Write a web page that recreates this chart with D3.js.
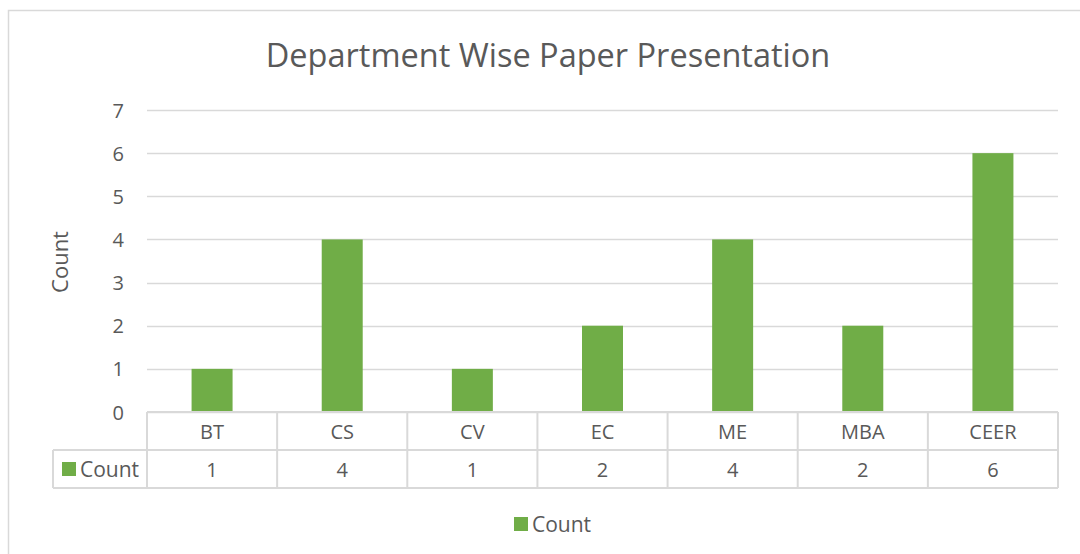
<!DOCTYPE html>
<html><head><meta charset="utf-8">
<script src="https://cdn.jsdelivr.net/npm/d3@7"></script>
<style>body{margin:0;background:#fff;} text{font-family:"Open Sans",sans-serif;fill:#595959;}</style>
</head><body>
<svg id="c" width="1080" height="554"></svg>
<script>
const categories = ["BT","CS","CV","EC","ME","MBA","CEER"];
const counts = [1,4,1,2,4,2,6];
const yTicks = [0,1,2,3,4,5,6,7];
const seriesName = "Count";
const title = "Department Wise Paper Presentation";
const green = "#70AD47", grid = "#D9D9D9";

const svg = d3.select("#c");
svg.append("rect").attr("x",8.5).attr("y",10.5).attr("width",1100).attr("height",600)
  .attr("fill","#fff").attr("stroke","#D9D9D9").attr("stroke-width",1.5);

const L=147, R=1058, T=110, B=412;
const x = d3.scaleBand().domain(categories).range([L,R]).paddingInner(0.685).paddingOuter(0.3425);
const xc = d3.scaleBand().domain(categories).range([L,R]);
const y = d3.scaleLinear().domain([0,7]).range([B,T]);

svg.append("text").attr("x",548).attr("y",67).attr("text-anchor","middle")
  .attr("font-size",32.5).text(title);

svg.append("g").selectAll("line").data(yTicks).join("line")
  .attr("x1",L).attr("x2",R).attr("y1",d=>Math.round(y(d))+0.5).attr("y2",d=>Math.round(y(d))+0.5)
  .attr("stroke",grid).attr("stroke-width",1.3);

const yAxis = d3.axisLeft(y).tickValues(yTicks).tickFormat(d3.format("d")).tickSize(0).tickPadding(0);
const ga = svg.append("g").attr("transform",`translate(124,0)`).call(yAxis);
ga.select(".domain").remove();
ga.selectAll("text").attr("font-size",20).attr("font-family","Open Sans").attr("fill","#595959").attr("dy","0.35em");

svg.append("text").attr("transform",`translate(68,262) rotate(-90)`).attr("text-anchor","middle")
  .attr("font-size",22).text("Count");

svg.append("g").selectAll("rect").data(counts).join("rect")
  .attr("x",(d,i)=>x(categories[i])).attr("width",x.bandwidth())
  .attr("y",d=>y(d)).attr("height",d=>B-y(d)).attr("fill",green);

const r1=412, r2=450, r3=488, tl=53;
const tg = svg.append("g").attr("stroke",grid).attr("stroke-width",2).attr("fill","none");
tg.append("line").attr("x1",L).attr("x2",R).attr("y1",r1).attr("y2",r1);
tg.append("line").attr("x1",tl).attr("x2",R).attr("y1",r2).attr("y2",r2);
tg.append("line").attr("x1",tl).attr("x2",R).attr("y1",r3).attr("y2",r3);
tg.append("line").attr("x1",tl).attr("x2",tl).attr("y1",r2).attr("y2",r3);
tg.selectAll("line.v").data(categories.concat(["_end"])).join("line").attr("class","v")
  .attr("x1",(d,i)=>i<categories.length?xc(d):R).attr("x2",(d,i)=>i<categories.length?xc(d):R)
  .attr("y1",r1).attr("y2",r3);

svg.append("g").selectAll("text").data(categories).join("text")
  .attr("x",d=>xc(d)+xc.bandwidth()/2).attr("y",(r1+r2)/2+1).attr("dy","0.35em")
  .attr("text-anchor","middle").attr("font-size",20).text(d=>d);
svg.append("g").selectAll("text").data(counts).join("text")
  .attr("x",(d,i)=>xc(categories[i])+xc.bandwidth()/2).attr("y",(r2+r3)/2+1).attr("dy","0.35em")
  .attr("text-anchor","middle").attr("font-size",20).text(d=>d);
svg.append("rect").attr("x",62).attr("y",462).attr("width",14).attr("height",14).attr("fill",green);
svg.append("text").attr("x",80).attr("y",470).attr("dy","0.35em").attr("font-size",21).text(seriesName);

svg.append("rect").attr("x",514).attr("y",517).attr("width",14).attr("height",14).attr("fill",green);
svg.append("text").attr("x",532).attr("y",525).attr("dy","0.35em").attr("font-size",21).text(seriesName);
</script>
</body></html>
